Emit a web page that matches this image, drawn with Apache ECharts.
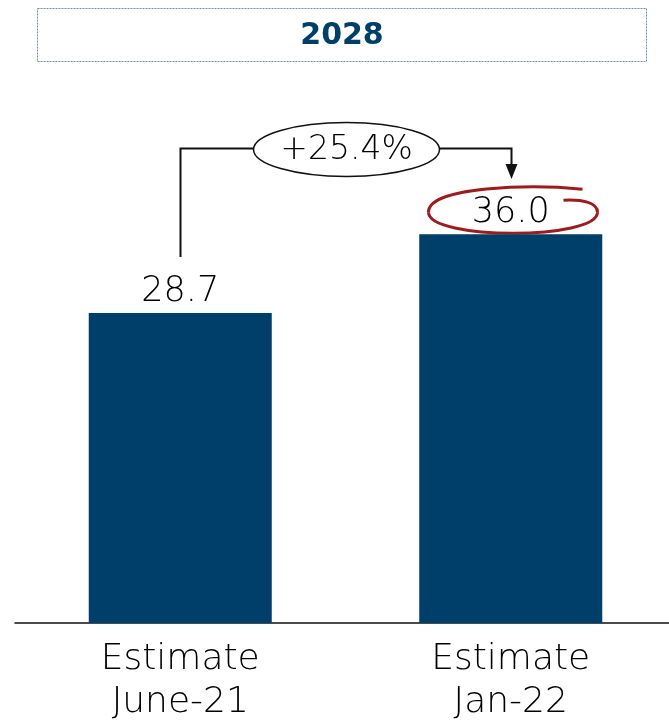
<!DOCTYPE html>
<html><head><meta charset="utf-8">
<script src="https://cdn.jsdelivr.net/npm/echarts@6/dist/echarts.min.js"></script>
<style>html,body{margin:0;padding:0;background:#fff}#c{width:669px;height:721px}</style>
</head><body><div id="c"></div>
<script>
const categories = ['Estimate\nJune-21', 'Estimate\nJan-22'];
const values = [28.7, 36.0];
const titleText = '2028';
const changeLabel = '+' + ((values[1] / values[0] - 1) * 100).toFixed(1) + '%';

const FONT = "'DejaVu Sans', sans-serif";
const chart = echarts.init(document.getElementById('c'));
chart.setOption({
  animation: false,
  grid: { left: 15, width: 661, bottom: 98, top: 83, containLabel: false, outerBoundsMode: 'none' },
  xAxis: {
    type: 'category', data: categories,
    axisLine: { lineStyle: { color: '#111', width: 1.5 } },
    axisTick: { show: false },
    axisLabel: { fontFamily: FONT, fontWeight: 200, fontSize: 36, color: '#000', lineHeight: 43, margin: 15 }
  },
  yAxis: { type: 'value', min: 0, max: 50, show: false, splitLine: { show: false } },
  series: [{
    type: 'bar', data: values, barWidth: 183,
    itemStyle: { color: '#003f69' },
    label: { show: true, position: 'top', distance: 4, fontFamily: FONT, fontWeight: 200, fontSize: 35, color: '#000',
      formatter: p => p.value.toFixed(1) }
  }]
});

const p1 = chart.convertToPixel({ seriesIndex: 0 }, [0, values[0]]);
const p2 = chart.convertToPixel({ seriesIndex: 0 }, [1, values[1]]);
const x1 = Math.round(p1[0]) + 0.5, x2 = Math.round(p2[0]) + 0.5;
const bracketY = 148.5;
const ecx = (x1 + x2) / 2 + 0.5, erx = 93, ery = 27;
const lcy = p2[1] - 22; // red ellipse center
const arrowTip = 179;
const redStroke = { fill: 'none', stroke: '#a01c1c', lineWidth: 3 };
function bz(a, b, c, d) {
  return { type: 'bezierCurve', shape: { x1: a[0], y1: a[1], cpx1: b[0], cpy1: b[1], cpx2: c[0], cpy2: c[1], x2: d[0], y2: d[1] }, style: redStroke };
}
const L = x2 - 83, R = x2 + 86;

chart.setOption({
  graphic: [
    { type: 'rect', shape: { x: 37.5, y: 8.5, width: 609, height: 53 },
      style: { fill: 'none', stroke: '#6f8fb0', lineWidth: 1, lineDash: [2, 1] } },
    { type: 'text', x: 342, y: 36, style: { text: titleText, fontFamily: FONT, fontWeight: 'bold', fontSize: 30,
      fill: '#003f69', align: 'center', verticalAlign: 'middle' } },
    { type: 'polyline', shape: { points: [[x1, p1[1] - 56], [x1, bracketY], [ecx - erx, bracketY]] },
      style: { stroke: '#111', lineWidth: 2, fill: 'none' } },
    { type: 'polyline', shape: { points: [[ecx + erx, bracketY], [x2, bracketY], [x2, arrowTip - 14]] },
      style: { stroke: '#111', lineWidth: 2, fill: 'none' } },
    { type: 'polygon', shape: { points: [[x2 - 6, arrowTip - 15], [x2 + 6, arrowTip - 15], [x2, arrowTip]] },
      style: { fill: '#111' } },
    { type: 'ellipse', shape: { cx: ecx, cy: bracketY + 1, rx: erx, ry: ery },
      style: { fill: '#fff', stroke: '#111', lineWidth: 1.5 } },
    { type: 'text', x: ecx, y: bracketY + 2, style: { text: changeLabel, fontFamily: FONT, fontWeight: 200, fontSize: 33,
      fill: '#000', align: 'center', verticalAlign: 'middle' } },
    bz([x2 + 71, lcy - 23], [x2 + 20, lcy - 28], [L, lcy - 26], [L, lcy]),
    bz([L, lcy], [L, lcy + 28], [R, lcy + 28], [R, lcy]),
    bz([R, lcy], [R, lcy - 10], [x2 + 70, lcy - 13], [x2 + 52, lcy - 12])
  ]
});
</script></body></html>
